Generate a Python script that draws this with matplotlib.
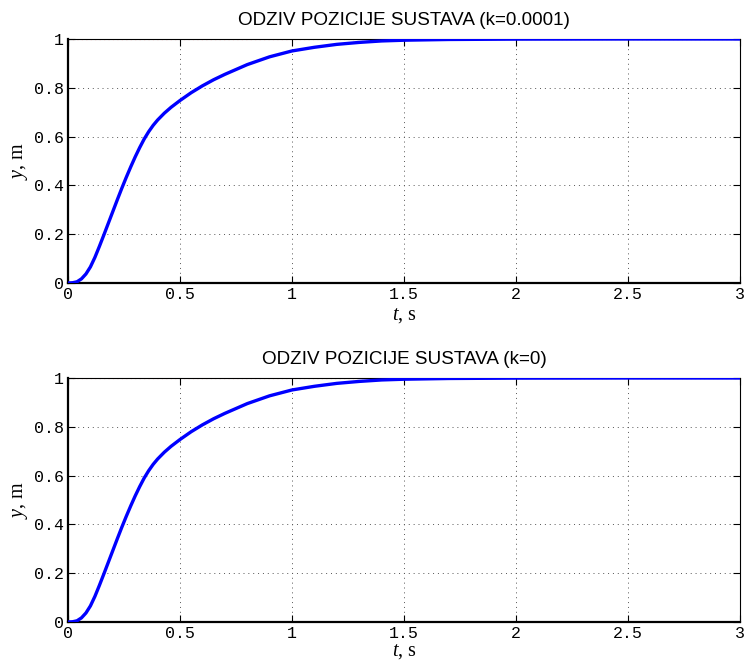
import matplotlib as mpl
mpl.use('Agg')

import matplotlib.pyplot as plt

# step response (time in s, position in m)
t = [0, 0.02, 0.04, 0.06, 0.08, 0.10, 0.12, 0.14, 0.16, 0.18, 0.20, 0.22,
     0.24, 0.26, 0.28, 0.30, 0.32, 0.34, 0.36, 0.38, 0.40, 0.43, 0.46, 0.50,
     0.55, 0.60, 0.65, 0.70, 0.80, 0.90, 1.00, 1.10, 1.20, 1.30, 1.40, 1.50,
     1.70, 2.00, 2.50, 3.00]
y_k00001 = [0, 0.001, 0.005, 0.017, 0.037, 0.066, 0.105, 0.15, 0.197, 0.245,
            0.293, 0.341, 0.388, 0.433, 0.476, 0.517, 0.555, 0.59, 0.62, 0.646,
            0.668, 0.696, 0.72, 0.748, 0.78, 0.808, 0.833, 0.855, 0.895, 0.927,
            0.951, 0.966, 0.978, 0.986, 0.992, 0.995, 0.998, 0.9995, 1.0, 1.0]
y_k0 = [0, 0.001, 0.005, 0.017, 0.037, 0.066, 0.105, 0.15, 0.197, 0.245,
        0.293, 0.341, 0.388, 0.433, 0.476, 0.517, 0.555, 0.59, 0.62, 0.646,
        0.668, 0.696, 0.72, 0.748, 0.78, 0.808, 0.833, 0.855, 0.895, 0.927,
        0.951, 0.966, 0.978, 0.986, 0.992, 0.995, 0.998, 0.9995, 1.0, 1.0]
ref_t = [0, 3]
ref_y = [1, 1]

titles = ['ODZIV POZICIJE SUSTAVA (k=0.0001)', 'ODZIV POZICIJE SUSTAVA (k=0)']
xticks = [0, 0.5, 1, 1.5, 2, 2.5, 3]
xticklabels = ['0', '0.5', '1', '1.5', '2', '2.5', '3']
yticks = [0, 0.2, 0.4, 0.6, 0.8, 1]
yticklabels = ['0', '0.2', '0.4', '0.6', '0.8', '1']

plt.rcParams['mathtext.fontset'] = 'custom'
plt.rcParams['mathtext.it'] = 'Liberation Serif:italic'
plt.rcParams['mathtext.rm'] = 'Liberation Serif'

fig = plt.figure(figsize=(7.45, 6.62), dpi=100)
positions = [[0.0913, 0.5725, 0.902, 0.3686],
             [0.0913, 0.0604, 0.902, 0.3686]]
xlabel_pads = [2.5, 0.5]  # bottom one sits right at the figure edge

for pos, title, ys, lpad in zip(positions, titles, [y_k00001, y_k0], xlabel_pads):
  ax = fig.add_axes(pos)
  ax.plot(ref_t, ref_y, color='red', lw=0.8, ls=(0, (1, 3)), zorder=1)
  ax.plot(t, ys, color='blue', lw=2.4, zorder=3)
  ax.set_xlim(0, 3)
  ax.set_ylim(0, 1)
  ax.set_xticks(xticks)
  ax.set_xticklabels(xticklabels, family='Liberation Mono', fontsize=12)
  ax.set_yticks(yticks)
  ax.set_yticklabels(yticklabels, family='Liberation Mono', fontsize=12)
  ax.tick_params(direction='in', top=True, right=True, length=5, width=0.8, pad=3)
  ax.grid(True, color='#555555', ls=(0, (1, 4)), lw=0.7)
  ax.spines['left'].set_linewidth(1.6)
  ax.spines['bottom'].set_linewidth(1.6)
  ax.spines['top'].set_linewidth(0.8)
  ax.spines['right'].set_linewidth(0.8)
  ax.set_title(title, family='Liberation Sans', fontsize=13.6, pad=10)
  ax.set_xlabel('$t$, s', family='Liberation Serif', fontsize=14.5, labelpad=lpad)
  ax.set_ylabel('$y$, m', family='Liberation Serif', fontsize=14.5, labelpad=3)

plt.savefig('out.png', dpi=100)
